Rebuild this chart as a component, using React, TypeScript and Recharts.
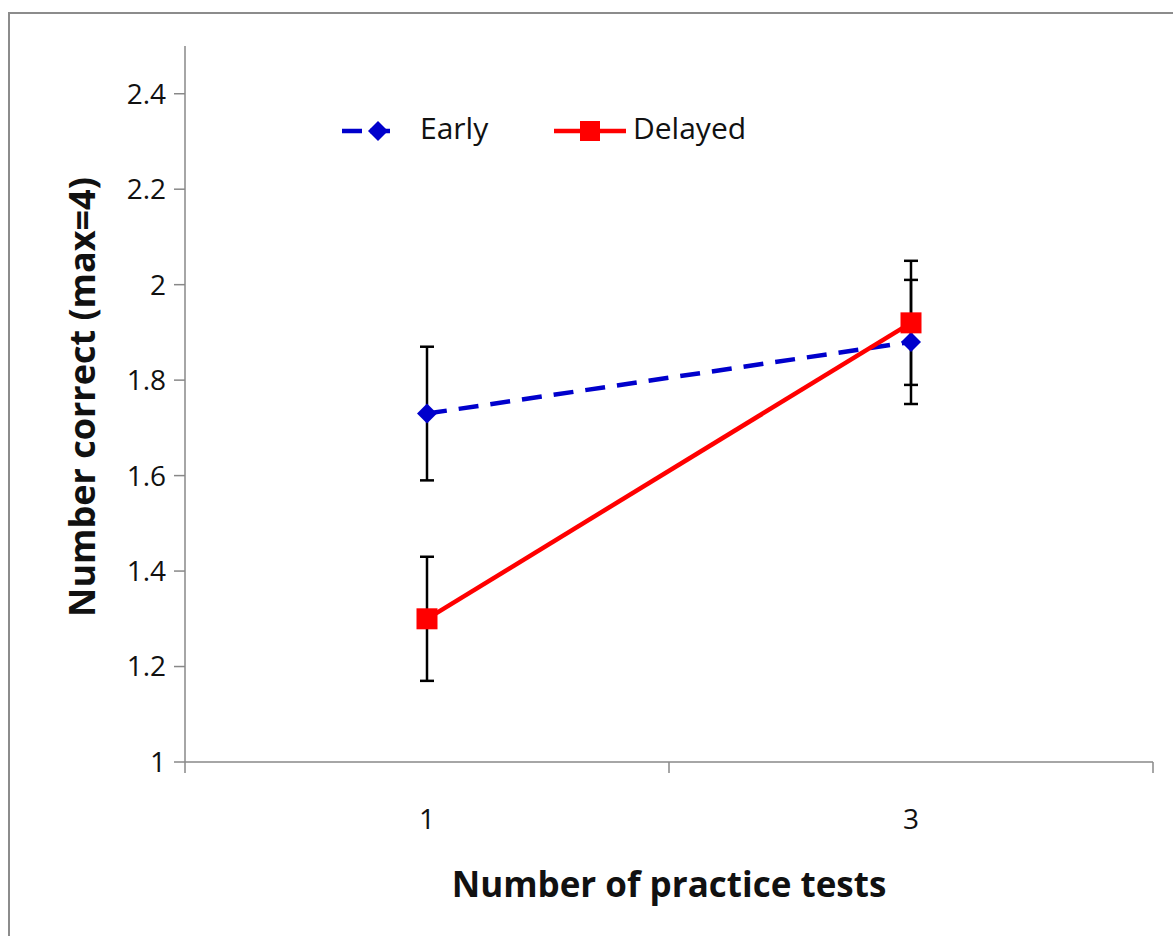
import { LineChart, Line, XAxis, YAxis, ErrorBar } from "recharts";

const categories = ["1", "3"];
const earlyMeans = [1.73, 1.88];
const earlyErrors = [0.14, 0.13];
const delayedMeans = [1.3, 1.92];
const delayedErrors = [0.13, 0.13];
const yTicks = [1, 1.2, 1.4, 1.6, 1.8, 2, 2.2, 2.4];

// numeric x positions so the axis ticks fall between the two groups
const data = categories.map((c, i) => ({
  label: c,
  pos: i + 0.5,
  early: earlyMeans[i],
  earlyErr: earlyErrors[i],
  delayed: delayedMeans[i],
  delayedErr: delayedErrors[i],
}));
const xTicks = [0, 0.5, 1, 1.5, 2];

const FONT = "'Open Sans', 'Liberation Sans', sans-serif";
const BLUE = "#0000CC";
const RED = "#FF0000";
const AXIS = "#888888";

const Diamond = (props: any) => {
  const { cx, cy } = props;
  if (cx == null || cy == null) return null;
  const s = 10;
  return <path d={`M${cx},${cy - s}L${cx + s},${cy}L${cx},${cy + s}L${cx - s},${cy}Z`} fill={BLUE} />;
};

const Square = (props: any) => {
  const { cx, cy } = props;
  if (cx == null || cy == null) return null;
  return <rect x={cx - 10.5} y={cy - 10.5} width={21} height={21} fill={RED} />;
};

const XTick = (props: any) => {
  const { x, y, payload } = props;
  const v = payload.value;
  if (Number.isInteger(v)) {
    return <line x1={x} y1={y} x2={x} y2={y + 11} stroke={AXIS} strokeWidth={1.5} />;
  }
  const idx = Math.floor(v);
  return (
    <text x={x} y={y + 60} textAnchor="middle" dominantBaseline="middle" fontSize={28} fill="#111" fontFamily={FONT}>
      {categories[idx]}
    </text>
  );
};

const LegendBox = () => (
  <svg width={480} height={60} style={{ position: "absolute", left: 340, top: 101, overflow: "visible" }}>
    <line x1={2} y1={30} x2={57} y2={30} stroke={BLUE} strokeWidth={4.5} strokeDasharray="20 8" />
    <path d="M38,20L48,30L38,40L28,30Z" fill={BLUE} />
    <text x={80} y={30} dominantBaseline="middle" fontSize={30} fill="#111" fontFamily={FONT}>Early</text>
    <line x1={214} y1={30} x2={286} y2={30} stroke={RED} strokeWidth={4.5} />
    <rect x={240} y={20} width={20} height={20} fill={RED} />
    <text x={293} y={30} dominantBaseline="middle" fontSize={30} fill="#111" fontFamily={FONT}>Delayed</text>
  </svg>
);

export default function App() {
  return (
    <div style={{ position: "absolute", left: 0, top: 0, width: 1173, height: 936, overflow: "hidden", background: "#fff" }}>
      <div style={{ position: "absolute", left: 8, top: 12, width: 1200, height: 960, border: "2px solid #8c8c8c" }} />
      <div style={{ position: "absolute", left: 0, top: 0 }}>
        <LineChart width={1173} height={936} data={data} margin={{ top: 46, right: 20, bottom: 0, left: 0 }}>
          <XAxis
            dataKey="pos"
            type="number"
            domain={[0, 2]}
            ticks={xTicks}
            interval={0}
            height={174}
            stroke={AXIS}
            strokeWidth={1.5}
            tickLine={false}
            tickSize={0}
            tickMargin={0}
            tick={<XTick />}
            label={{
              content: (p: any) => {
                const vb = p.viewBox;
                return (
                  <text x={vb.x + vb.width / 2} y={vb.y + 126} textAnchor="middle" dominantBaseline="middle" fontSize={35} fontWeight="bold" fill="#111" fontFamily={FONT}>
                    Number of practice tests
                  </text>
                );
              },
            }}
          />
          <YAxis
            type="number"
            domain={[1, 2.5]}
            ticks={yTicks}
            interval={0}
            width={185}
            stroke={AXIS}
            strokeWidth={1.5}
            tickSize={11}
            tick={{ fontSize: 28, fill: "#111", fontFamily: FONT }}
            tickMargin={8}
            label={{
              content: (p: any) => {
                const vb = p.viewBox;
                const cx = 85;
                const cy = vb.y + vb.height / 2 - 7;
                return (
                  <text x={cx} y={cy} transform={`rotate(-90, ${cx}, ${cy})`} textAnchor="middle" dominantBaseline="middle" fontSize={36} fontWeight="bold" fill="#111" fontFamily={FONT}>
                    Number correct (max=4)
                  </text>
                );
              },
            }}
          />
          <Line
            dataKey="early"
            name="Early"
            stroke={BLUE}
            strokeWidth={4.5}
            strokeDasharray="20 12"
            dot={<Diamond />}
            activeDot={false}
            isAnimationActive={false}
          >
            <ErrorBar dataKey="earlyErr" direction="y" width={7} stroke="#000" strokeWidth={2.5} isAnimationActive={false} />
          </Line>
          <Line
            dataKey="delayed"
            name="Delayed"
            stroke={RED}
            strokeWidth={4.5}
            dot={<Square />}
            activeDot={false}
            isAnimationActive={false}
          >
            <ErrorBar dataKey="delayedErr" direction="y" width={7} stroke="#000" strokeWidth={2.5} isAnimationActive={false} />
          </Line>
        </LineChart>
      </div>
      <LegendBox />
    </div>
  );
}
